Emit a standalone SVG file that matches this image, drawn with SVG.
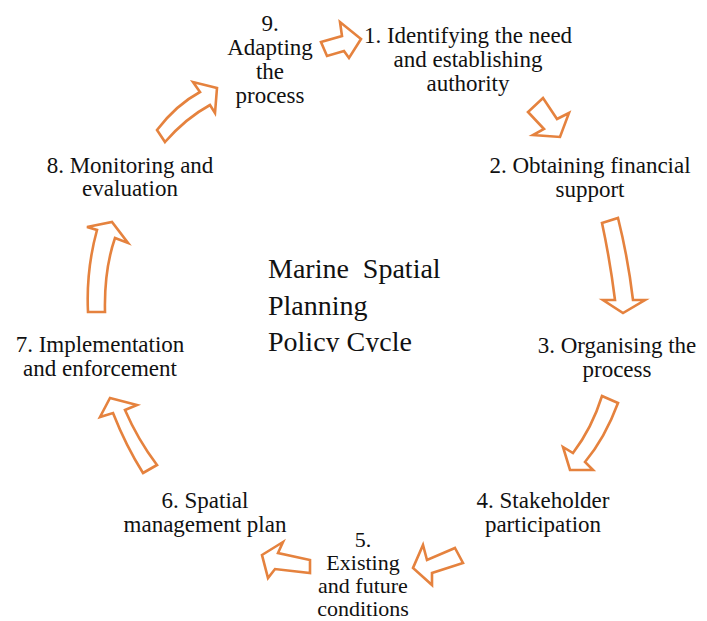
<svg xmlns="http://www.w3.org/2000/svg" width="707" height="621" viewBox="0 0 707 621">
<defs>
<style>
.lbl{font-family:"Liberation Serif","Times New Roman",serif;font-size:23px;fill:#111;text-anchor:middle}
.sm{font-size:22px}
.ttl{font-family:"Liberation Serif","Times New Roman",serif;font-size:28px;fill:#111}
.arr{fill:#fff;stroke:#E5823E;stroke-width:2.6;stroke-linejoin:miter}
</style>
<clipPath id="clipTitle"><rect x="250" y="240" width="220" height="112"/></clipPath>
</defs>
<rect width="707" height="621" fill="#fff"/>
<g id="connectors">
<polygon class="arr" points="321,42 342,36 340,22 361,39 349,58 344,51 327,56"/>
<polygon class="arr" points="543,98 557,119 569,113 560,137 533,135 544,129 528,112"/>
<path class="arr" d="M602,223 L618,218 Q628,258 633,300 L645,300 L623,313 L603,300 L615,300 Q610,260 602,223 Z"/>
<path class="arr" d="M602,396 L618,403 Q605,438 585,462 L593,470 L570,470 L563,447 L573,453 Q592,428 602,396 Z"/>
<polygon class="arr" points="455,548 463,563 432,573 432,585 413,568 423,545 427,560"/>
<polygon class="arr" points="310,560 310,573 275,569 268,578 262,555 283,542 278,553"/>
<path class="arr" d="M143,473 L157,465 Q138,440 125,410 L137,405 L110,398 L100,417 L113,413 Q126,446 143,473 Z"/>
<path class="arr" d="M88,312 L105,312 Q104,270 115,238 L128,243 L112,222 L87,227 L97,230 Q86,270 88,312 Z"/>
<path class="arr" d="M157,130 L165,142 Q186,118 210,105 L215,113 L217,88 L193,82 L200,92 Q176,105 157,130 Z"/>
</g>
<g id="center">
<text class="ttl" clip-path="url(#clipTitle)"><tspan x="268" y="278" xml:space="preserve">Marine  Spatial</tspan><tspan x="268" y="315">Planning</tspan><tspan x="268" y="351">Policy Cycle</tspan></text>
</g>
<g id="node1"><text class="lbl"><tspan x="468" y="43">1. Identifying the need</tspan><tspan x="468" y="67">and establishing</tspan><tspan x="468" y="91">authority</tspan></text></g>
<g id="node2"><text class="lbl"><tspan x="590" y="173">2. Obtaining financial</tspan><tspan x="590" y="197">support</tspan></text></g>
<g id="node3"><text class="lbl"><tspan x="617" y="353">3. Organising the</tspan><tspan x="617" y="377">process</tspan></text></g>
<g id="node4"><text class="lbl"><tspan x="543" y="508">4. Stakeholder</tspan><tspan x="543" y="532">participation</tspan></text></g>
<g id="node5"><text class="lbl sm"><tspan x="363" y="547">5.</tspan><tspan x="363" y="570">Existing</tspan><tspan x="363" y="593">and future</tspan><tspan x="363" y="616">conditions</tspan></text></g>
<g id="node6"><text class="lbl"><tspan x="205" y="508">6. Spatial</tspan><tspan x="205" y="532">management plan</tspan></text></g>
<g id="node7"><text class="lbl"><tspan x="100" y="352">7. Implementation</tspan><tspan x="100" y="376">and enforcement</tspan></text></g>
<g id="node8"><text class="lbl"><tspan x="130" y="173">8. Monitoring and</tspan><tspan x="130" y="196">evaluation</tspan></text></g>
<g id="node9"><text class="lbl"><tspan x="270" y="31">9.</tspan><tspan x="270" y="55">Adapting</tspan><tspan x="270" y="79">the</tspan><tspan x="270" y="103">process</tspan></text></g>
</svg>
